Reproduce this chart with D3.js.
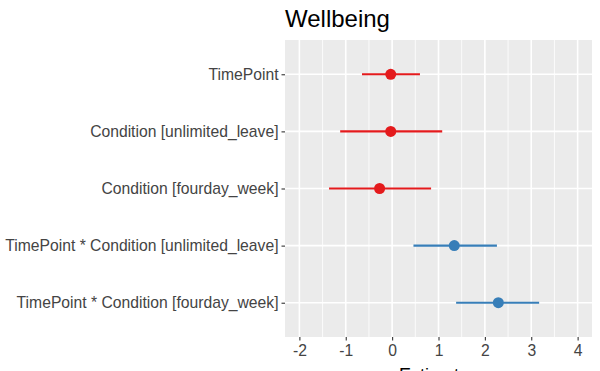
<!DOCTYPE html>
<html>
<head>
<meta charset="utf-8">
<script src="https://cdn.jsdelivr.net/npm/d3@7"></script>
<style>
  body { margin: 0; background: #fff; }
  svg { display: block; font-family: "Liberation Sans", Arial, sans-serif; }
</style>
</head>
<body>
<svg id="chart" width="600" height="371"></svg>
<script>
// model terms, top to bottom
var terms = [
    "TimePoint",
    "Condition [unlimited_leave]",
    "Condition [fourday_week]",
    "TimePoint * Condition [unlimited_leave]",
    "TimePoint * Condition [fourday_week]"
];
var estimates = [-0.03, -0.03, -0.27, 1.34, 2.29];
var ciLow = [-0.65, -1.12, -1.36, 0.46, 1.38];
var ciHigh = [0.60, 1.08, 0.84, 2.26, 3.17];
var xTicks = [-2, -1, 0, 1, 2, 3, 4];

var margin = { top: 40, right: 8, bottom: 34, left: 285 },
    width = 600 - margin.left - margin.right,
    height = 371 - margin.top - margin.bottom;

var svg = d3.select("#chart");
var g = svg.append("g")
    .attr("transform", "translate(" + margin.left + "," + margin.top + ")");

var x = d3.scaleLinear()
    .domain([-2.31, 4.31])
    .range([0, width]);

var y = d3.scalePoint()
    .domain(terms)
    .range([0, height])
    .padding(0.6);

var colour = function (v) { return v > 0.5 ? "#377eb8" : "#e41a1c"; };

// panel
g.append("rect")
    .attr("width", width)
    .attr("height", height)
    .attr("fill", "#ebebeb");

// minor gridlines
var minor = d3.range(-2.5, 4.6, 1).filter(function (v) { return x(v) > 0 && x(v) < width; });
g.selectAll(".minor").data(minor).enter().append("line")
    .attr("x1", function (d) { return x(d); })
    .attr("x2", function (d) { return x(d); })
    .attr("y1", 0).attr("y2", height)
    .attr("stroke", "#fff").attr("stroke-width", 0.8);

g.selectAll(".vmajor").data(xTicks).enter().append("line")
    .attr("x1", function (d) { return x(d); })
    .attr("x2", function (d) { return x(d); })
    .attr("y1", 0).attr("y2", height)
    .attr("stroke", "#fff").attr("stroke-width", 1.6);

g.selectAll(".hmajor").data(terms).enter().append("line")
    .attr("x1", 0).attr("x2", width)
    .attr("y1", function (d) { return y(d); })
    .attr("y2", function (d) { return y(d); })
    .attr("stroke", "#fff").attr("stroke-width", 1.6);

// error bars + points
var rows = terms.map(function (t, i) {
    return { term: t, est: estimates[i], lo: ciLow[i], hi: ciHigh[i] };
});

g.selectAll(".ci").data(rows).enter().append("line")
    .attr("x1", function (d) { return x(d.lo); })
    .attr("x2", function (d) { return x(d.hi); })
    .attr("y1", function (d) { return y(d.term); })
    .attr("y2", function (d) { return y(d.term); })
    .attr("stroke", function (d) { return colour(d.est); })
    .attr("stroke-width", 2.2);

g.selectAll(".pt").data(rows).enter().append("circle")
    .attr("cx", function (d) { return x(d.est); })
    .attr("cy", function (d) { return y(d.term); })
    .attr("r", 5.5)
    .attr("fill", function (d) { return colour(d.est); });

// axes
var xAxis = g.append("g")
    .attr("transform", "translate(0," + height + ")")
    .call(d3.axisBottom(x).tickValues(xTicks).tickSize(3.5).tickPadding(4).tickFormat(d3.format("d")));

var yAxis = g.append("g")
    .call(d3.axisLeft(y).tickSize(3.5).tickPadding(3));

[xAxis, yAxis].forEach(function (a) {
    a.select(".domain").remove();
    a.selectAll(".tick line").attr("stroke", "#333").attr("stroke-width", 1.1);
    a.selectAll(".tick text")
        .attr("fill", "#444")
        .style("font-size", "15.7px")
        .style("font-family", "Liberation Sans, Arial, sans-serif");
});
xAxis.selectAll(".tick text").text(function (d) { return d < 0 ? "-" + Math.abs(d) : d; });

// titles
svg.append("text")
    .attr("x", margin.left)
    .attr("y", 26.5)
    .attr("fill", "#000")
    .style("font-size", "24px")
    .text("Wellbeing");

svg.append("text")
    .attr("x", margin.left + width / 2)
    .attr("y", 381)
    .attr("text-anchor", "middle")
    .attr("fill", "#000")
    .style("font-size", "18px")
    .text("Estimates");
</script>
</body>
</html>
